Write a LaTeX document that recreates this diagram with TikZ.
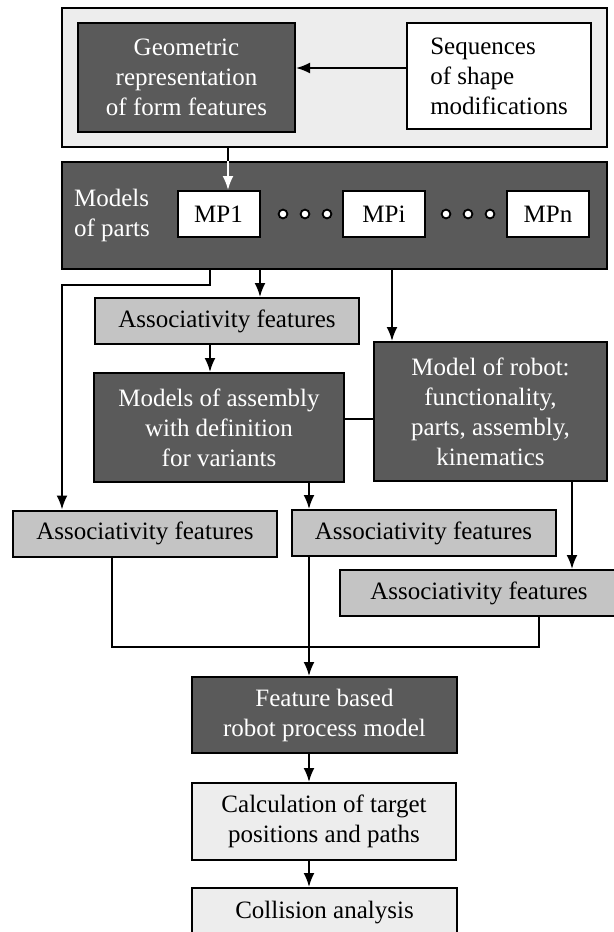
\documentclass[tikz,border=0pt]{standalone}
\usepackage{fontspec}
\setmainfont{Liberation Serif}
\usetikzlibrary{arrows.meta}
\definecolor{boxdark}{HTML}{5A5A5A}
\definecolor{boxmid}{HTML}{C4C4C4}
\definecolor{boxlight}{HTML}{EDEDED}
\begin{document}
\begin{tikzpicture}[x=0.5pt,y=-0.5pt,line width=1pt,
	every node/.style={font=\fontsize{12.5}{15}\selectfont,inner sep=0,align=center},
	dark/.style={draw,fill=boxdark,text=white},
	mid/.style={draw,fill=boxmid,minimum width=132pt,minimum height=23pt},
	light/.style={draw,fill=boxlight},
	plain/.style={draw,fill=white},
	mpbox/.style={plain,minimum width=41pt,minimum height=23pt},
	>={Latex[length=7pt,width=5.5pt]}]
\useasboundingbox (0,0) rectangle (614,932);
\clip (0,0) rectangle (614,932);
\node[light,minimum width=272.5pt,minimum height=69.5pt] (top) at (334.5,77.5) {};
\node[dark,minimum width=108.5pt,minimum height=54.5pt] (geo) at (186.5,77.5) {Geometric\\representation\\of form features};
\node[plain,minimum width=92pt,minimum height=53pt,align=left] (seq) at (499,76) {Sequences\\of shape\\modifications};
\node[dark,minimum width=272.5pt,minimum height=53.5pt] (parts) at (334.5,215.5) {};
\node[text=white,align=left] (partlbl) at (112,215) {Models\\of parts};
\node[mpbox] (mp1) at (218.5,214) {MP1};
\node[mpbox] (mpi) at (384,214) {MPi};
\node[mpbox] (mpn) at (548,214) {MPn};
\foreach \x in {283,305,327,446,468,490}
	\filldraw[fill=white,line width=0.9pt] (\x,214) circle (2.2pt);
\node[mid] (as1) at (227,321) {Associativity features};
\node[dark,minimum width=125pt,minimum height=54.5pt] (asm) at (219,427.5) {Models of assembly\\with definition\\for variants};
\node[dark,minimum width=116.5pt,minimum height=69.5pt] (robot) at (490.5,411.5) {Model of robot:\\functionality,\\parts, assembly,\\kinematics};
\node[mid] (asL) at (145,533.5) {Associativity features};
\node[mid] (asM) at (423.5,533) {Associativity features};
\node[mid,minimum width=139pt] (asR) at (479,593) {Associativity features};
\node[dark,minimum width=132.5pt,minimum height=38pt] (feat) at (324.5,715) {Feature based\\robot process model};
\node[light,minimum width=132pt,minimum height=38.5pt] (calc) at (324,821.5) {Calculation of target\\positions and paths};
\node[light,minimum width=132.5pt,minimum height=25pt] (coll) at (324.5,913) {Collision analysis};
\coordinate (c1) at (228,0);
\coordinate (c2) at (210,0);
\coordinate (c3) at (260,0);
\coordinate (c4) at (392,0);
\coordinate (c5) at (309,0);
\coordinate (c6) at (572,0);
\coordinate (c7) at (112,0);
\coordinate (c8) at (539,0);
\coordinate (c9) at (62,0);
\coordinate (r1) at (0,285);
\coordinate (r2) at (0,647);
\coordinate (r3) at (0,419);
\coordinate (r4) at (0,68);
\draw[->] (seq.west |- r4) -- (geo.east |- r4);
\draw (top.south -| c1) -- (parts.north -| c1);
\draw[white,->] (parts.north -| c1) -- (mp1.north -| c1);
\draw[->] (parts.south -| c2) |- (r1 -| c9) -- (asL.north -| c9);
\draw[->] (parts.south -| c3) -- (as1.north -| c3);
\draw[->] (parts.south -| c4) -- (robot.north -| c4);
\draw[->] (as1.south -| c2) -- (asm.north -| c2);
\draw (asm.east |- r3) -- (robot.west |- r3);
\draw[->] (asm.south -| c5) -- (asM.north -| c5);
\draw[->] (robot.south -| c6) -- (asR.north -| c6);
\draw (asL.south -| c7) |- (r2 -| c8) -- (asR.south -| c8);
\draw[->] (asM.south -| c5) -- (feat.north -| c5);
\draw[->] (feat.south -| c5) -- (calc.north -| c5);
\draw[->] (calc.south -| c5) -- (coll.north -| c5);
\end{tikzpicture}
\end{document}
